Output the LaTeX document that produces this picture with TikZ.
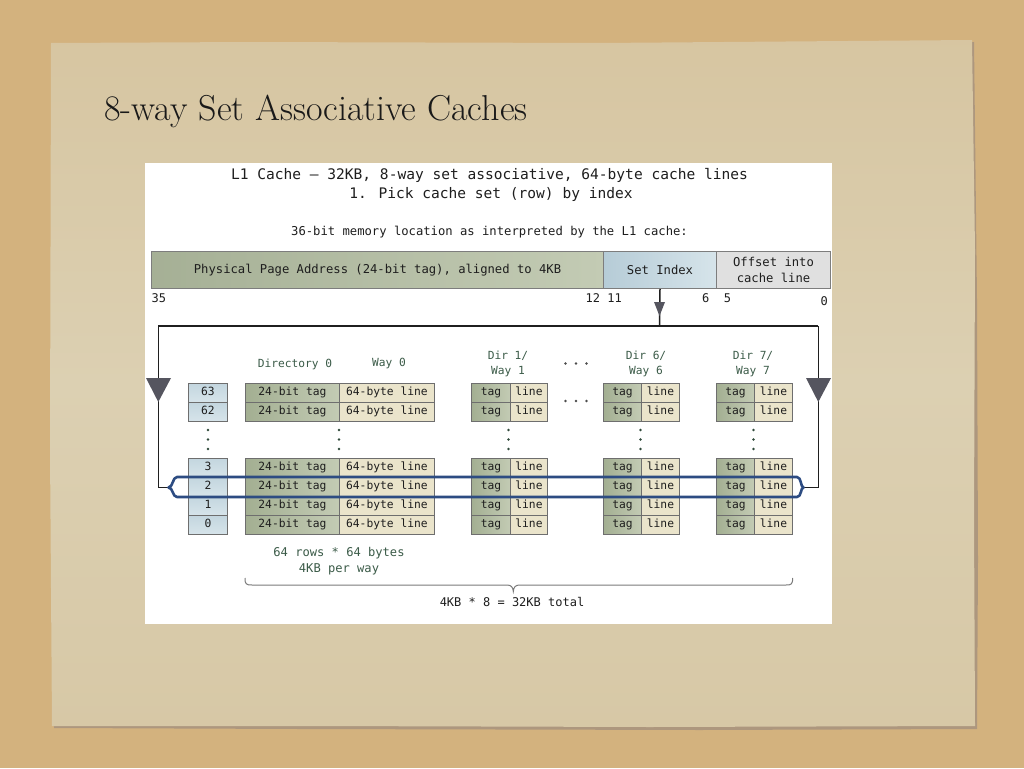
\documentclass[tikz,border=0pt]{standalone}
\usepackage{fontspec}
\newfontfamily\mono{DejaVu Sans Mono}
\definecolor{sand}{HTML}{D3B27E}
\definecolor{paper}{HTML}{D7C8A6}
\definecolor{paperlight}{HTML}{DCD0B2}
\definecolor{paperedge}{HTML}{8A6B47}
\definecolor{taggreen}{HTML}{AEB99D}
\definecolor{tagdark}{HTML}{A3AF92}
\definecolor{taglight}{HTML}{C3CBB4}
\definecolor{linecream}{HTML}{EAE4CB}
\definecolor{idxblue}{HTML}{C3D6DF}
\definecolor{idxlight}{HTML}{D6E4EA}
\definecolor{setblue}{HTML}{B6CCD7}
\definecolor{offgray}{HTML}{E0E0E0}
\definecolor{cellborder}{HTML}{6E6E6E}
\definecolor{labelgreen}{HTML}{3B5B48}
\definecolor{inktext}{HTML}{1E1E1E}
\definecolor{selblue}{HTML}{2D4C82}
\definecolor{arrowgray}{HTML}{55555F}
\definecolor{bracegray}{HTML}{7A7A7A}
\begin{document}
\begin{tikzpicture}[x=1pt,y=-1pt,
  cell/.style={draw=cellborder, line width=0.9pt, minimum height=19pt,
    text height=8.2pt, text depth=2.4pt,
    inner sep=0pt, anchor=north west, text=inktext,
    font=\mono\fontsize{11.3}{13}\selectfont},
  tagcell/.style={cell, left color=tagdark, right color=taglight},
  linecell/.style={cell, fill=linecream},
  idxcell/.style={cell, top color=idxblue, bottom color=idxlight},
  addr/.style={draw=cellborder!90, line width=1pt, minimum height=37pt,
    inner sep=0pt, anchor=north west, text=inktext, align=center,
    font=\mono\fontsize{12.2}{15.5}\selectfont},
  bitlabel/.style={inner sep=0pt, text=inktext, font=\mono\fontsize{12}{14}\selectfont},
  hdr/.style={inner sep=0pt, text=inktext, font=\mono\fontsize{14.55}{18}\selectfont},
  collabel/.style={inner sep=0pt, text=labelgreen, align=center,
    font=\mono\fontsize{11.2}{15}\selectfont},
  note/.style={inner sep=0pt, text=labelgreen, align=center,
    font=\mono\fontsize{12.1}{16}\selectfont},
  bus/.style={draw=black!88, line width=1.5pt},
  dot/.style={fill=labelgreen!80!black, draw=none},
]
\useasboundingbox (0,0) rectangle (1024,768);

% backdrop and the sheet of paper
\fill[sand] (0,0) rectangle (1024,768);
\fill[paperedge!70] (53,45) -- (400,44) -- (974,42) -- (977,300) -- (978,560) -- (977,729)
  -- (700,730) -- (300,729) -- (54,728) -- cycle;
\shade[top color=paper!88!sand, bottom color=paper, middle color=paperlight]
  (51,43) -- (250,42) -- (600,43) -- (972,40) -- (975,250) -- (974,520) -- (975,726)
  -- (650,727) -- (320,726) -- (52,726) -- (50,450) -- cycle;

% slide title
\node[anchor=base west, inner sep=0pt, text=black!90, font=\fontsize{36}{42}\selectfont]
  (title) at (104,120) {8-way Set Associative Caches};

% white figure panel
\fill[white] (145,163) rectangle (832,624);

% headings
\node[hdr] (head1) at (489.5,175) {L1 Cache – 32KB, 8-way set associative, 64-byte cache lines};
\node[hdr] (head2) at (491,194) {1. Pick cache set (row) by index};
\node[bitlabel, font=\mono\fontsize{12.2}{15}\selectfont] (memcap) at (489.5,232)
  {36-bit memory location as interpreted by the L1 cache:};

% the address split into fields
\node[addr, minimum width=452pt, left color=taggreen!95!black, right color=taglight] (phys) at (151,251)
  {Physical Page Address (24-bit tag), aligned to 4KB};
\node[addr, minimum width=113pt, left color=setblue, right color=idxlight] (setidx) at (603,251) {Set Index};
\node[addr, minimum width=114pt, fill=offgray] (offset) at (716,251) {Offset into\\cache line};

% bit positions
\node[bitlabel, anchor=west] (b35) at (151.5,298) {35};
\node[bitlabel, anchor=east] (b12) at (622,298) {12 11};
\node[bitlabel, anchor=west] (b6) at (702,298) {6\ \ 5};
\node[bitlabel, anchor=east] (b0) at (828,301) {0};

% column headings
\node[collabel] (hdir0) at (295,364) {Directory 0};
\node[collabel] (hway0) at (389,364) {Way 0};
\node[collabel] (hdir1) at (508,363.5) {Dir 1/\\Way 1};
\node[collabel] (hdir6) at (646,363.5) {Dir 6/\\Way 6};
\node[collabel] (hdir7) at (753,363.5) {Dir 7/\\Way 7};

% cache rows: set index plus tag and data line of each way
\foreach \r/\ty in {63/383,62/402,3/458,2/477,1/496,0/515}{
  \node[idxcell, minimum width=39pt] (idx\r) at (188,\ty) {\r};
  \foreach \d/\tx/\tw/\lx/\lw/\tt/\lt in
    {0/245/94/339/95/24-bit tag/64-byte line,
     1/471/39/510/37/tag/line,
     6/603/38/641/38/tag/line,
     7/716/38/754/38/tag/line}{
    \node[tagcell, minimum width=\tw pt] (tag\d-\r) at (\tx,\ty) {\tt};
    \node[linecell, minimum width=\lw pt] (line\d-\r) at (\lx,\ty) {\lt};
  }
}

% elided rows
\foreach \cx in {208,339,508.5,640.5,753.5}{
  \foreach \cy in {430,439.5,449}{
    \fill[dot] (\cx,\cy) circle (1.3);
  }
}
% elided ways
\foreach \cy in {363.5,401}{
  \foreach \cx in {565.5,576,586.5}{
    \fill[dot, fill=black!70] (\cx,\cy) circle (1.3);
  }
}

% index bus from the set index field to the selected row
\coordinate (busT) at (659.5,326);
\coordinate (busL) at (158.3,326);
\coordinate (busR) at (818.3,326);
\coordinate (cornL) at (158.3,487.5);
\coordinate (cornR) at (818.3,487.5);
\coordinate (selL) at (168.5,487.5);
\coordinate (selR) at (803.5,487.5);
\draw[bus] (setidx.south) -- (busT);
\draw[bus] (busL) -- (busR);
\draw[bus] (busL) -- (cornL) -- (selL);
\draw[bus] (busR) -- (cornR) -- (selR);
\fill[arrowgray] (654,302) -- (665,302) -- (659.5,316) -- cycle;
\fill[arrowgray] (146,378) -- (171,378) -- (158.3,402) -- cycle;
\fill[arrowgray] (806,378) -- (831,378) -- (818.3,402) -- cycle;

% selected set outline
\draw[selblue, line width=2.6pt, line join=round]
  (177,477) -- (797,477) .. controls (801.5,477) and (800.5,487.5) .. (selR)
  .. controls (800.5,487.5) and (801.5,497) .. (797,497) -- (177,497)
  .. controls (172.5,497) and (173,487.5) .. (selL)
  .. controls (173,487.5) and (172.5,477) .. (177,477) -- cycle;

% size notes
\node[note] (rows) at (339,561) {64 rows * 64 bytes\\[-0.5pt]4KB per way};
\draw[bracegray, line width=1pt]
  (245,578) .. controls (245,584) and (246,585) .. (252,585) -- (507,585)
  .. controls (511,585) and (513,587) .. (513.3,591.5)
  .. controls (513.6,587) and (515.6,585) .. (519.6,585) -- (786,585)
  .. controls (791.5,585) and (792.7,584) .. (792.7,578);
\node[bitlabel, font=\mono\fontsize{12}{14}\selectfont] (total) at (512,602) {4KB * 8 = 32KB total};
\end{tikzpicture}
\end{document}
